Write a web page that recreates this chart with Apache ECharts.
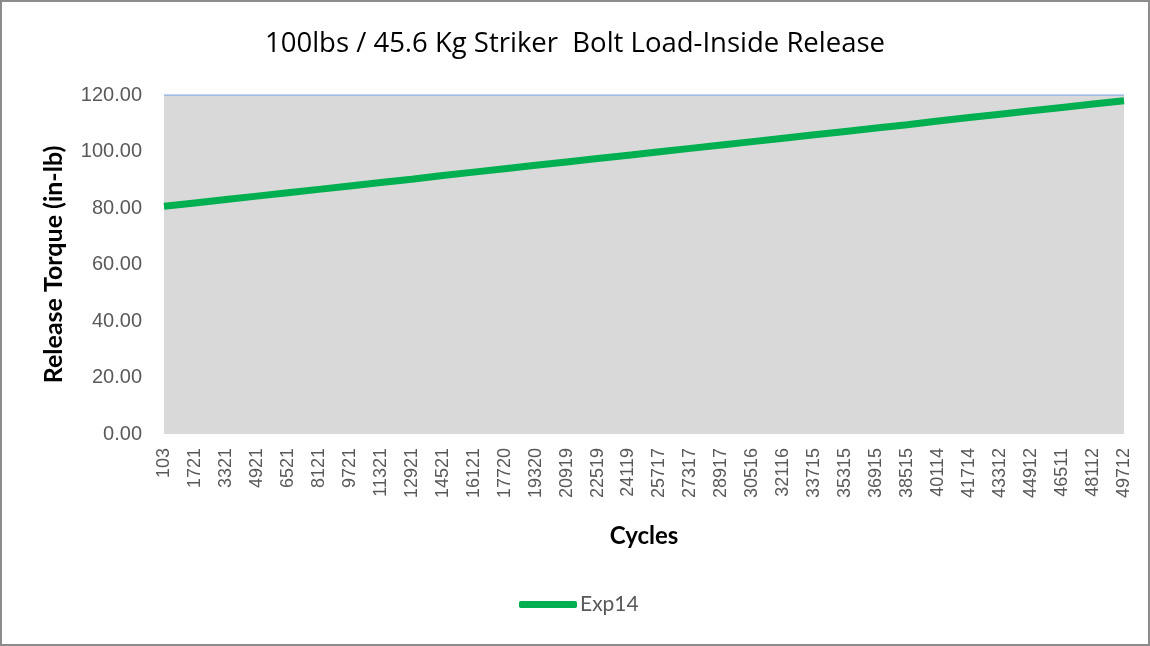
<!DOCTYPE html>
<html>
<head>
<meta charset="utf-8">
<script src="https://cdn.jsdelivr.net/npm/echarts@6/dist/echarts.min.js"></script>
<style>
  html, body { margin: 0; padding: 0; background: #fff; }
  #chart { width: 1146px; height: 642px; border: 2px solid #8c8c8c; }
</style>
</head>
<body>
<div id="chart"></div>
<script>
// cycle labels shown on the category axis
const cycles = ['103', '1721', '3321', '4921', '6521', '8121', '9721', '11321', '12921', '14521',
  '16121', '17720', '19320', '20919', '22519', '24119', '25717', '27317', '28917', '30516',
  '32116', '33715', '35315', '36915', '38515', '40114', '41714', '43312', '44912', '46511',
  '48112', '49712'];

// Exp14 trend (almost straight)
const exp14 = [80.6, 81.8, 83.0, 84.2, 85.4, 86.6, 87.8, 89.0, 90.2, 91.5,
  92.7, 93.9, 95.1, 96.3, 97.5, 98.7, 99.9, 101.1, 102.3, 103.5,
  104.7, 105.9, 107.1, 108.3, 109.5, 110.8, 112.0, 113.2, 114.4, 115.6,
  116.8, 118.0];

// upper band at the axis max (grey fill, blue edge)
const upper = cycles.map(function () { return 120; });

const yTicks = { min: 0, max: 120, interval: 20 };

const chart = echarts.init(document.getElementById('chart'));
chart.setOption({
  animation: false,
  title: {
    text: '100lbs / 45.6 Kg Striker  Bolt Load-Inside Release',
    left: 'center',
    top: 23,
    textStyle: { fontFamily: 'Open Sans', fontWeight: 'normal', fontSize: 27.5, color: '#000' }
  },
  grid: { left: 162, right: 24, top: 93, bottom: 210 },
  legend: {
    bottom: 24,
    left: 512,
    data: ['Exp14'],
    itemWidth: 58,
    itemHeight: 7,
    itemGap: 5,
    icon: 'roundRect',
    textStyle: { fontFamily: 'Lato', fontSize: 21, color: '#595959', padding: [0, 0, 0, -2] }
  },
  xAxis: {
    type: 'category',
    data: cycles,
    boundaryGap: false,
    name: 'Cycles',
    nameLocation: 'middle',
    nameGap: 90,
    nameTextStyle: { fontFamily: 'Lato', fontWeight: 'bold', fontSize: 24, color: '#000' },
    axisLine: { show: false },
    axisTick: { show: false },
    axisLabel: {
      rotate: 90,
      interval: 0,
      margin: 14,
      fontFamily: 'Liberation Sans',
      fontSize: 18,
      color: '#595959'
    }
  },
  yAxis: {
    type: 'value',
    min: yTicks.min,
    max: yTicks.max,
    interval: yTicks.interval,
    name: 'Release Torque (in-lb)',
    nameLocation: 'middle',
    nameGap: 98,
    nameTextStyle: { fontFamily: 'Lato', fontWeight: 'bold', fontSize: 25, color: '#000' },
    axisLine: { show: false },
    axisTick: { show: false },
    splitLine: { show: false },
    axisLabel: {
      margin: 22,
      fontFamily: 'Liberation Sans',
      fontSize: 20,
      color: '#595959',
      formatter: function (v) { return v.toFixed(2); }
    }
  },
  series: [
    {
      name: 'band',
      type: 'line',
      data: upper,
      symbol: 'none',
      silent: true,
      lineStyle: { color: '#8eb4e3', width: 1.5 },
      areaStyle: { color: '#d9d9d9', opacity: 1 },
      z: 1
    },
    {
      name: 'Exp14',
      type: 'line',
      data: exp14,
      symbol: 'none',
      lineStyle: { color: '#00b050', width: 7 },
      itemStyle: { color: '#00b050' },
      z: 3
    }
  ]
});
</script>
</body>
</html>
